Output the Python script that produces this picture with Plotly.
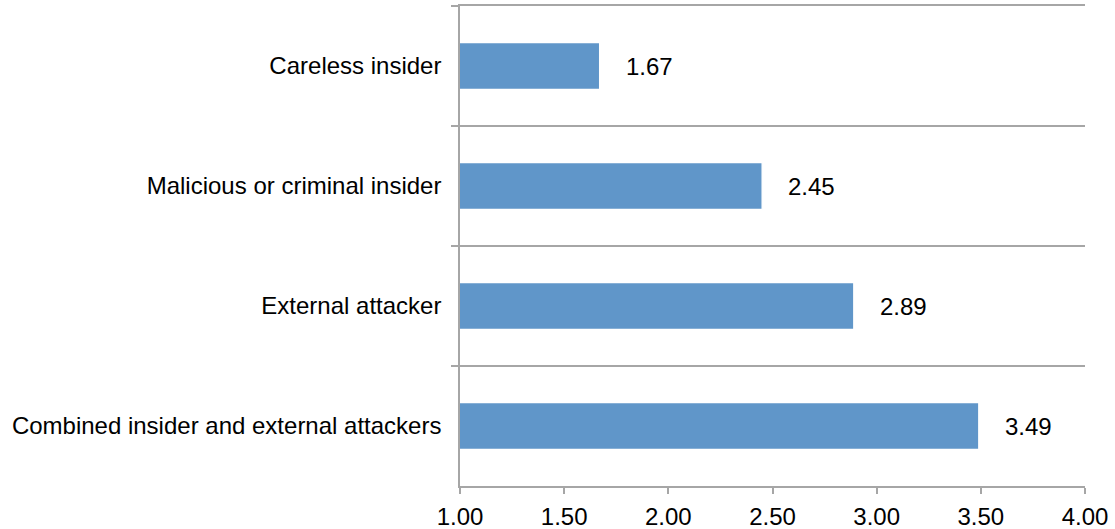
import plotly.graph_objects as go

categories = ["Careless insider", "Malicious or criminal insider", "External attacker",
              "Combined insider and external attackers"]
values = [1.67, 2.45, 2.89, 3.49]
x_ticks = [1.0, 1.5, 2.0, 2.5, 3.0, 3.5, 4.0]

GRID = "#a6a6a6"
FONT = "Liberation Sans, Arial, sans-serif"

fig = go.Figure()
fig.add_trace(go.Bar(
    x=values, y=categories, orientation="h", base=0,
    width=0.39,
    marker=dict(color="#6096c9", line=dict(color="white", width=1.2)),
    hoverinfo="x+y",
))
for c, v in zip(categories, values):
    fig.add_annotation(x=v, y=c, text=f"{v:.2f}", showarrow=False,
                       xanchor="left", xshift=24, yshift=0,
                       font=dict(size=24, color="black", family=FONT))

fig.update_layout(
    width=1115, height=529,
    margin=dict(l=460, r=30, t=6, b=43),
    paper_bgcolor="white", plot_bgcolor="white",
    showlegend=False,
    font=dict(family=FONT, size=24, color="black"),
    bargap=0.6,
)
fig.update_xaxes(
    range=[1, 4], tickvals=x_ticks, ticktext=[f"{t:.2f}" for t in x_ticks],
    showgrid=False, zeroline=False, automargin=False,
    showline=True, linecolor=GRID, linewidth=1.5, mirror=True,
    ticks="outside", ticklen=6, tickcolor=GRID, tickwidth=1.5,
    tickfont=dict(size=24, color="black", family=FONT),
    ticklabelstandoff=2,
)
fig.update_yaxes(
    type="category", categoryorder="array", categoryarray=categories,
    autorange="reversed", automargin=False,
    tickson="boundaries", ticks="outside", ticklen=7, tickcolor=GRID, tickwidth=1.5,
    showgrid=True, gridcolor=GRID, gridwidth=1.5,
    showline=True, linecolor=GRID, linewidth=1.5,
    tickfont=dict(size=24, color="black", family=FONT),
    ticklabelstandoff=12,
)
fig.write_html("out.html")
